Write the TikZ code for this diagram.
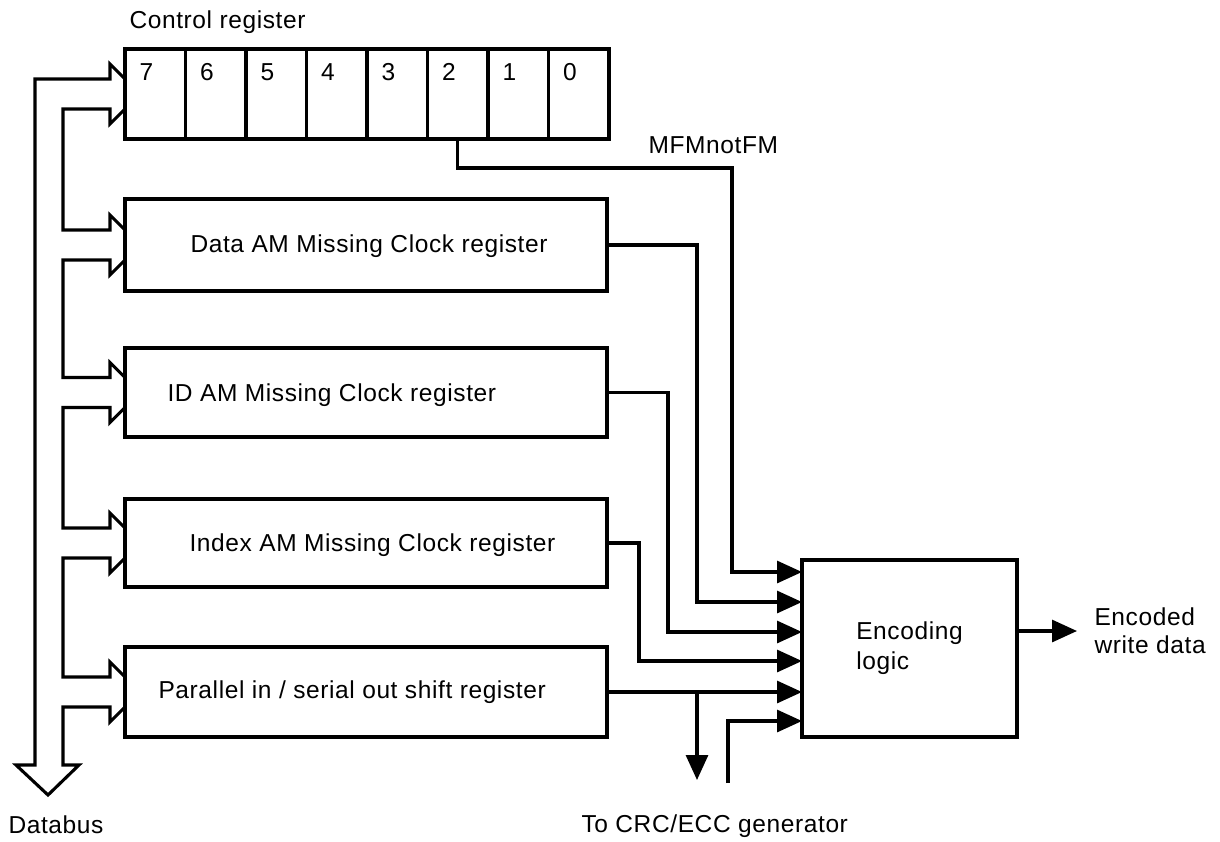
\documentclass[tikz,border=0pt]{standalone}
\usepackage{fontspec}
\setmainfont{Liberation Sans}[LetterSpace=2.5]
\usetikzlibrary{arrows.meta,calc}
\begin{document}
\begin{tikzpicture}[x=1pt,y=-1pt,line width=3.1pt,
  font=\fontsize{24.5}{30}\selectfont,
  box/.style={draw,rectangle,inner sep=0,outer sep=0,anchor=north west},
  lbl/.style={inner sep=0,anchor=base west},
  sig/.style={-{Triangle[length=25pt,width=22pt]},line join=miter},
  bus/.style={line join=miter}]
\path[use as bounding box] (0,0) rectangle (1220,841);

% control register
\node[lbl] (ctitle) at (128,28) {Control register};
\foreach \i [count=\k from 0] in {7,6,5,4,3,2,1,0}{
  \node[box,minimum width=60.5pt,minimum height=90pt] (c\i) at ({125+\k*60.5},49) {};
  \node[lbl] (d\i) at ($(c\i.north west)+(13,31)$) {\i};
}

% registers
\node[box,minimum width=482pt,minimum height=92pt] (data) at (125,199) {};
\node[box,minimum width=482pt,minimum height=89pt] (idam) at (125,348) {};
\node[box,minimum width=482pt,minimum height=88pt] (index) at (125,499) {};
\node[box,minimum width=482pt,minimum height=90pt] (par) at (125,647) {};
\node[lbl] (tdata) at (189,252) {Data AM Missing Clock register};
\node[lbl] (tidam) at (166,401) {ID AM Missing Clock register};
\node[lbl] (tindex) at (188,551) {Index AM Missing Clock register};
\node[lbl] (tpar) at (157,698) {Parallel in / serial out shift register};

% encoding logic
\node[box,minimum width=215pt,minimum height=177pt,align=left] (enc) at (802,560) {Encoding\\logic};
\node[anchor=west,align=left,inner sep=0,font=\fontsize{24.5}{28}\selectfont] (out) at (1093,631) {Encoded\\write data};

% labels
\node[lbl] (mfm) at (647,153) {MFMnotFM};
\node[lbl] (dbus) at (7,833) {Databus};
\node[lbl] (crc) at (580,832) {To CRC/ECC generator};

% databus
\coordinate (hd) at (48,795);
\draw[bus] ($(c7.west)+(0,-15)$) -- ++(-15,-15) -- ++(0,15) -- ++(-75,0)
  -- ($(hd)+(-13,-30)$) -- ++(-19,0) -- (hd) -- ++(31,-30) -- ++(-16,0)
  -- ($(par.west)+(-62,15)$) -- ++(47,0) -- ++(0,15) -- ++(15,-15);
\foreach \a/\b in {c7/data,data/idam,idam/index,index/par}
  \draw[bus] ($(\a.west)+(0,15)$) -- ++(-15,15) -- ++(0,-15) -- ++(-47,0)
    -- ($(\b.west)+(-62,-15)$) -- ++(47,0) -- ++(0,-15) -- ++(15,15);

% inputs to encoding logic
\coordinate (e1) at ($(enc.north west)+(0,12)$);
\coordinate (e2) at ($(enc.north west)+(0,42)$);
\coordinate (e3) at ($(enc.north west)+(0,72)$);
\coordinate (e4) at ($(enc.north west)+(0,101)$);
\coordinate (e5) at (par.east -| enc.west);
\coordinate (e6) at ($(enc.north west)+(0,161)$);
\coordinate (in6) at (728,783);
\coordinate (br) at ($(par.east)+(90,0)$);

\draw[sig] (c2.south) -- ++(0,29) -| ($(e1)+(-70,0)$) -- (e1);
\draw[sig] (data.east) -| ($(e2)+(-105,0)$) -- (e2);
\draw[sig] (idam.east) -| ($(e3)+(-134,0)$) -- (e3);
\draw[sig] (index.east) -| ($(e4)+(-163,0)$) -- (e4);
\draw[sig] (par.east) -- (e5);
\draw[sig] (br) -- ++(0,88);
\draw[sig] (in6) |- (e6);

% output
\draw[sig] (enc.east |- out.west) -- ($(out.west)+(-16,0)$);
\end{tikzpicture}
\end{document}
